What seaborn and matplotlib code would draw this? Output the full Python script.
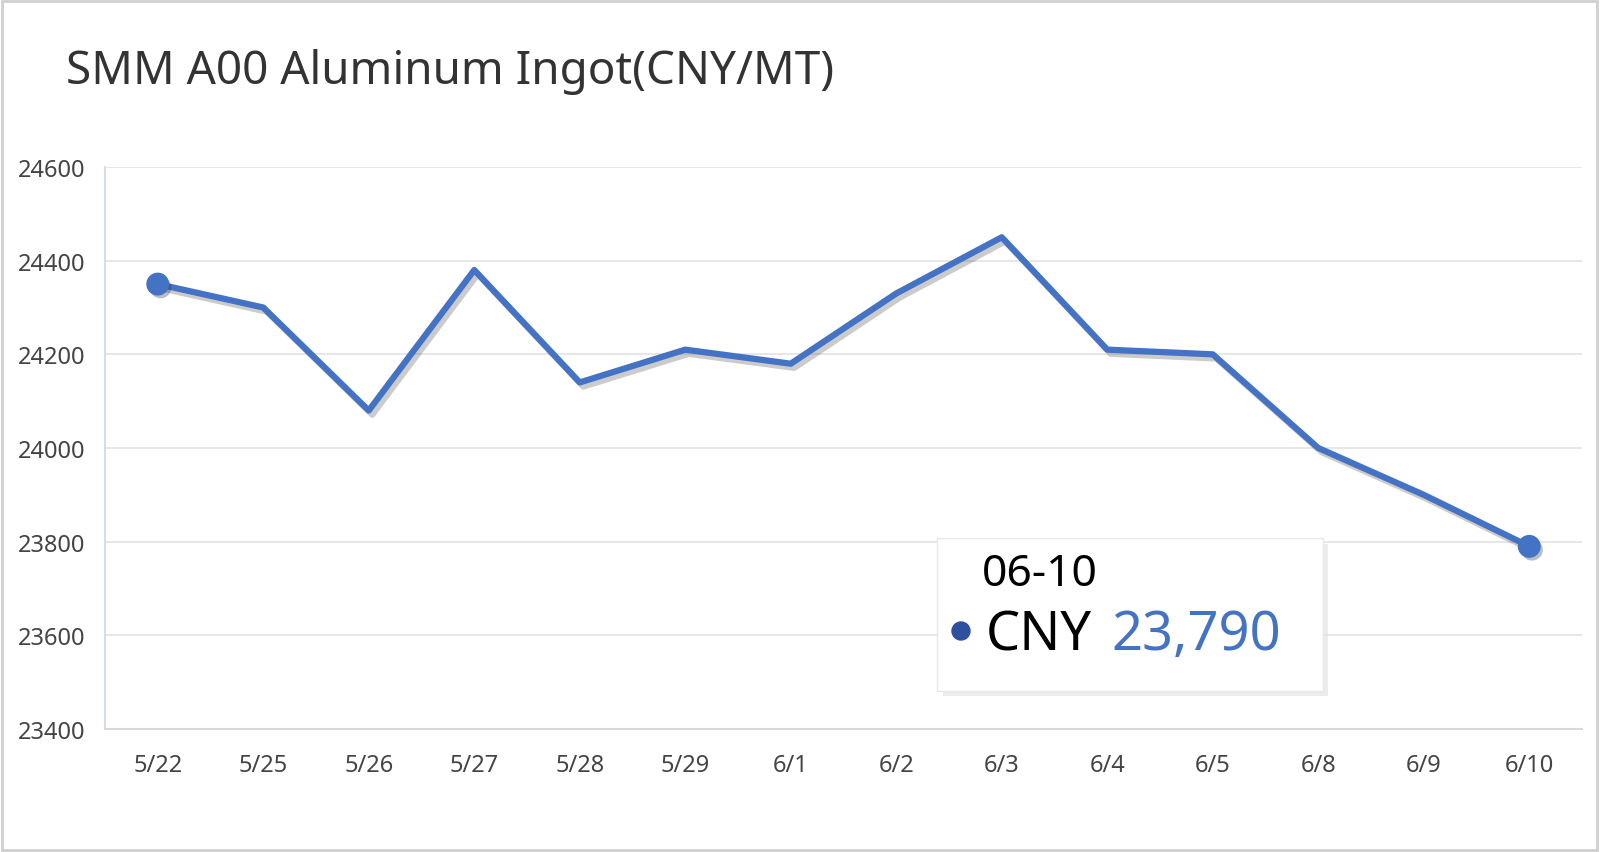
import matplotlib
matplotlib.use("Agg")
import matplotlib.pyplot as plt
import matplotlib.patheffects as pe
from matplotlib.patches import Rectangle, Ellipse
import seaborn as sns
import pandas as pd
import numpy as np

# data
dates = ['5/22', '5/25', '5/26', '5/27', '5/28', '5/29', '6/1',
         '6/2', '6/3', '6/4', '6/5', '6/8', '6/9', '6/10']
prices = [24350, 24300, 24080, 24380, 24140, 24210, 24180,
          24330, 24450, 24210, 24200, 24000, 23900, 23790]
y_ticks = [23400, 23600, 23800, 24000, 24200, 24400, 24600]
title = 'SMM A00 Aluminum Ingot(CNY/MT)'
tip_date = '06-10'
tip_value = '23,790'

LINE = '#4472C4'

sns.set_style('white')
plt.rcParams['font.family'] = ['Noto Sans', 'DejaVu Sans']

df = pd.DataFrame({'idx': np.arange(len(dates)), 'price': prices})

fig = plt.figure(figsize=(16, 8.53), dpi=100)
ax = fig.add_axes([105 / 1600, 1 - 730 / 853, (1582 - 105) / 1600, (730 - 168) / 853])

# horizontal grid
for yv in y_ticks[1:]:
    ax.axhline(yv, color='#e3e3e3', lw=1.2, zorder=0)

sns.lineplot(data=df, x='idx', y='price', ax=ax, color=LINE, lw=4.5,
             zorder=3,
             path_effects=[pe.SimpleLineShadow(offset=(2.5, -3), alpha=0.3,
                                               shadow_color='#555555'),
                           pe.Normal()])
ends = df.iloc[[0, -1]]
ax.scatter(ends['idx'], ends['price'], s=240, color=LINE, zorder=4,
           path_effects=[pe.SimplePatchShadow(offset=(2, -2.5), alpha=0.3),
                         pe.Normal()])

ax.set_xlim(-0.5, len(dates) - 0.5)
ax.set_ylim(y_ticks[0], y_ticks[-1])
ax.set_yticks(y_ticks)
ax.set_yticklabels([str(v) for v in y_ticks])
ax.set_xticks(np.arange(len(dates)))
ax.set_xticklabels(dates)
ax.set_xticks(np.arange(len(dates) + 1) - 0.5, minor=True)
ax.tick_params(axis='x', which='major', length=0, pad=17, labelsize=17,
               labelcolor='#444444')
ax.tick_params(axis='x', which='minor', length=12, width=1.2, color='#d9d9d9')
ax.tick_params(axis='y', length=0, pad=14, labelsize=17, labelcolor='#444444')
ax.set_xlabel('')
ax.set_ylabel('')

for s in ['top', 'right']:
    ax.spines[s].set_visible(False)
ax.spines['left'].set_color('#c9d7f0')
ax.spines['left'].set_linewidth(1.2)
ax.spines['bottom'].set_color('#d9d9d9')
ax.spines['bottom'].set_linewidth(1.5)

# title
fig.text(66 / 1600, 1 - 72 / 853, title, fontsize=33, color='#333333',
         va='center', ha='left')

# tooltip box
fig.patches.append(Rectangle((943 / 1600, 1 - 697 / 853), 385 / 1600, 152 / 853,
                             transform=fig.transFigure, facecolor='#e0e0e0',
                             edgecolor='none', alpha=0.6, zorder=5))
fig.patches.append(Rectangle((937 / 1600, 1 - 692 / 853), 386 / 1600, 153 / 853,
                             transform=fig.transFigure, facecolor='white',
                             edgecolor='#e8e8e8', lw=1, zorder=6))
fig.text(982 / 1600, 1 - 575 / 853, tip_date, fontsize=32, color='black',
         va='center', ha='left', zorder=7)
fig.text(986 / 1600, 1 - 636 / 853, 'CNY', fontsize=39, color='black',
         va='center', ha='left', zorder=7)
fig.text(1111 / 1600, 1 - 636 / 853, tip_value, fontsize=39, color=LINE,
         va='center', ha='left', zorder=7)
fig.add_artist(Ellipse((961 / 1600, 1 - 632 / 853), 18 / 1600, 18 / 853,
                       transform=fig.transFigure, color='#2f4f9f', zorder=7))

# outer frame
fig.patches.append(Rectangle((0.001, 0.002), 0.997, 0.996, transform=fig.transFigure,
                             facecolor='none', edgecolor='#d0d0d0', lw=2, zorder=10))

fig.savefig('out.png', dpi=100)
